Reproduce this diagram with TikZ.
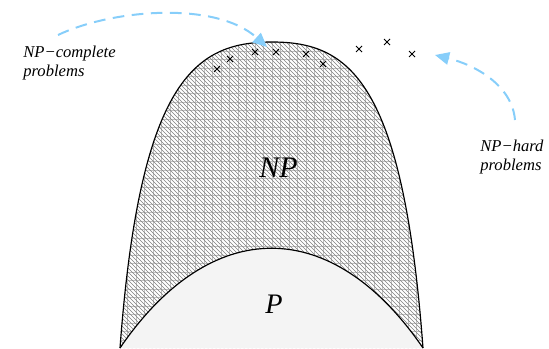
\documentclass[tikz,border=0pt]{standalone}
\usepackage{fontspec}
\setmainfont{Liberation Serif}
\usetikzlibrary{arrows.meta}
\definecolor{hintblue}{RGB}{135,206,250}
\definecolor{pgray}{RGB}{244,244,244}

\begin{document}
\begin{tikzpicture}[x=0.6bp,y=-0.6bp,
  hint/.style={hintblue,line width=1.2bp,dash pattern=on 7bp off 4.5bp,-{Triangle[length=8.5bp,width=7.5bp]}},
  lab/.style={font=\fontsize{10}{11.2}\selectfont\itshape,align=left,inner sep=0pt,anchor=north west},
  gridline/.style={black!25,line width=0.3bp},
  hatchline/.style={black!50,line width=0.3bp}]
\useasboundingbox (0,0) rectangle (549,348);
{
\coordinate (bl) at (120,348);
\coordinate (br) at (423,348);
\coordinate (top) at (272,42);
% NP
\begin{scope}
\clip (bl) .. controls (140,80) and (195,42) .. (top) .. controls (349,42) and (403,80) .. (br) -- cycle;
\fill[white] (0,0) rectangle (549,348);
\foreach \x in {0,8.5,...,549}{
\draw[gridline] (\x,0)--(\x,348);
}
\foreach \y in {0,8.5,...,348}{
\draw[gridline] (0,\y)--(549,\y);
}
\foreach \k in {-230,-226,...,440}{
\draw[hatchline] (\k,30)--++(330,330);
}
\end{scope}
% P
\fill[pgray] (bl) .. controls (211,215) and (332,215) .. (br) -- cycle;
\draw[line width=0.7bp] (bl) .. controls (211,215) and (332,215) .. (br);
\draw[line width=0.7bp] (bl) .. controls (140,80) and (195,42) .. (top) .. controls (349,42) and (403,80) .. (br);
%
\foreach \x/\y in {217/69,230/59,255/52,276/52,306/54,323/64,359/49,387/42,412/54}{
\draw[line width=0.5bp] (\x-3,\y-3)--(\x+3,\y+3) (\x-3,\y+3)--(\x+3,\y-3);
}
\node[font=\fontsize{18}{20}\selectfont\itshape,anchor=base] (np) at (278.5,177) {NP};
\node[font=\fontsize{17}{20}\selectfont\itshape,anchor=base] (p) at (274,313) {P};
\node[lab] (npc) at (23,46) {NP−complete\\problems};
\node[lab] (nph) at (480,140) {NP−hard\\problems};
%
\coordinate (cs) at (58,35);
\coordinate (ce) at (267,47);
\draw[hint] (cs) .. controls (110,10) and (215,0) .. (ce);
\coordinate (hs) at (515,120);
\coordinate (he) at (435,55);
\draw[hint] (hs) .. controls (512,85) and (475,65) .. (he);
}
\end{tikzpicture}
\end{document}
